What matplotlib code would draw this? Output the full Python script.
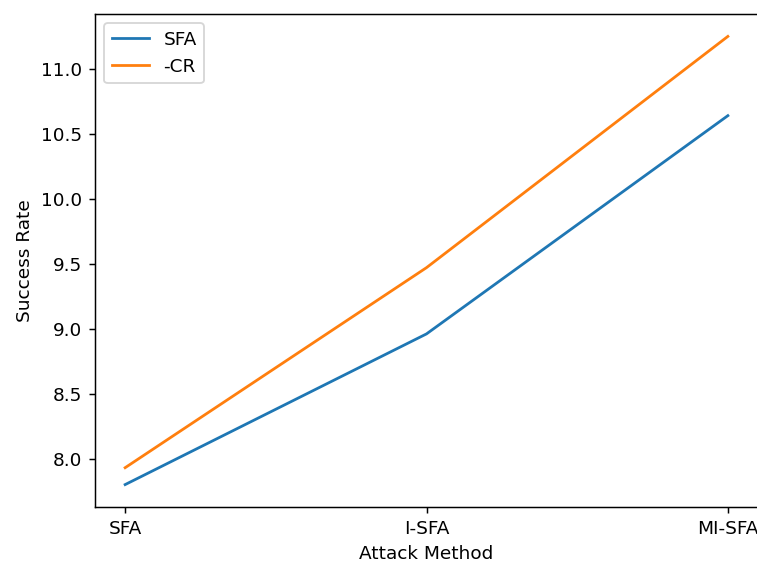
import matplotlib
matplotlib.use("Agg")
import matplotlib.pyplot as plt

# data
methods = ["SFA", "I-SFA", "MI-SFA"]
sfa = [7.80, 8.96, 10.64]
cr = [7.93, 9.47, 11.25]

dpi = 133.3
fig = plt.figure(figsize=(757 / dpi, 561 / dpi), dpi=dpi)
ax = fig.add_axes([95 / 757, 1 - 507 / 561, 663 / 757, 493 / 561])

ax.plot(methods, sfa, label="SFA")
ax.plot(methods, cr, label="-CR")

ax.set_xlabel("Attack Method")
ax.set_ylabel("Success Rate")
ax.legend(loc="upper left")

fig.savefig("out.png", dpi=dpi)
